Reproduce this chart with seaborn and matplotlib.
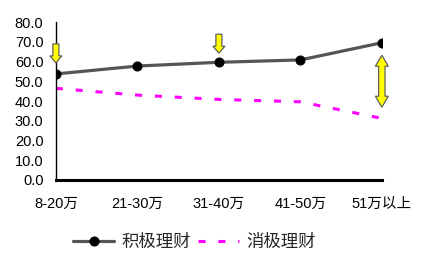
import matplotlib
matplotlib.use("Agg")
import matplotlib.pyplot as plt
import matplotlib.transforms as mtransforms
from matplotlib.patches import Polygon
import seaborn as sns
import pandas as pd

categories = ["8-20万", "21-30万", "31-40万", "41-50万", "51万以上"]
active = [53.7, 57.7, 59.6, 60.8, 69.5]
passive = [46.4, 43.0, 40.8, 39.6, 31.2]
yticks = [0, 10, 20, 30, 40, 50, 60, 70, 80]

sns.set_style("white")
plt.rcParams['font.family'] = ['Liberation Sans', 'Noto Sans CJK SC', 'DejaVu Sans']

df = pd.DataFrame({"x": list(range(len(categories))) * 2,
                   "v": active + passive,
                   "s": ["积极理财"] * 5 + ["消极理财"] * 5})

fig = plt.figure(figsize=(4.3, 2.62), dpi=100)
ax = fig.add_axes([0.13, 0.313, 0.758, 0.603])

sub_a = df[df.s == "积极理财"]
sub_p = df[df.s == "消极理财"]
sns.lineplot(data=sub_a, x="x", y="v", ax=ax, color="#555555", lw=2.3, marker="o",
             markersize=6.5, markerfacecolor="black", markeredgecolor="black", label="积极理财")
sns.lineplot(data=sub_p, x="x", y="v", ax=ax, color="#ff00ff", lw=2.2, dashes=(2.3, 4.2),
             label="消极理财")

ax.set_xlim(0, 4)
ax.set_ylim(0, 80)
ax.set_yticks(yticks)
ax.set_yticklabels([f"{t:.1f}" for t in yticks])
ax.set_xticks(range(len(categories)))
ax.set_xticklabels(categories, family=['Liberation Sans', 'Noto Sans CJK SC'])
ax.set_xlabel("")
ax.set_ylabel("")
ax.tick_params(axis='both', direction='in', length=4, labelsize=10.5, colors='black')
ax.tick_params(axis='y', pad=9)
ax.tick_params(axis='x', pad=12)
for s in ["top", "right"]:
    ax.spines[s].set_visible(False)
ax.spines["left"].set_color("black")
ax.spines["left"].set_linewidth(1)
ax.spines["bottom"].set_color("black")
ax.spines["bottom"].set_linewidth(2.2)
ax.grid(False)


def block_arrow(xd, yd, verts_px):
    tr = fig.dpi_scale_trans + mtransforms.ScaledTranslation(xd, yd, ax.transData)
    pts = [(vx / fig.dpi, vy / fig.dpi) for vx, vy in verts_px]
    ax.add_patch(Polygon(pts, closed=True, transform=tr, facecolor="#ffff00",
                         edgecolor="#606060", lw=0.9, clip_on=False, zorder=6))


# down arrow: tip at anchor, in pixel offsets
down = [(-3, 19), (3, 19), (3, 7), (6, 7), (0, 0), (-6, 7), (-3, 7)]
block_arrow(0, 59.3, down)
block_arrow(2, 64.2, down)
# double arrow centred at anchor
dbl = [(0, 26), (6.5, 15), (3.2, 15), (3.2, -15), (6.5, -15), (0, -26),
       (-6.5, -15), (-3.2, -15), (-3.2, 15), (-6.5, 15)]
block_arrow(4, 50.0, dbl)

ax.get_legend().remove()
h, l = ax.get_legend_handles_labels()
fig.legend(h, l, loc="center", bbox_to_anchor=(0.452, 0.075), ncol=2, frameon=False,
           prop={'family': ['Noto Sans CJK SC'], 'size': 12.5}, handlelength=2.4,
           columnspacing=0.4, handletextpad=0.4)

fig.savefig("out.png", dpi=100)
